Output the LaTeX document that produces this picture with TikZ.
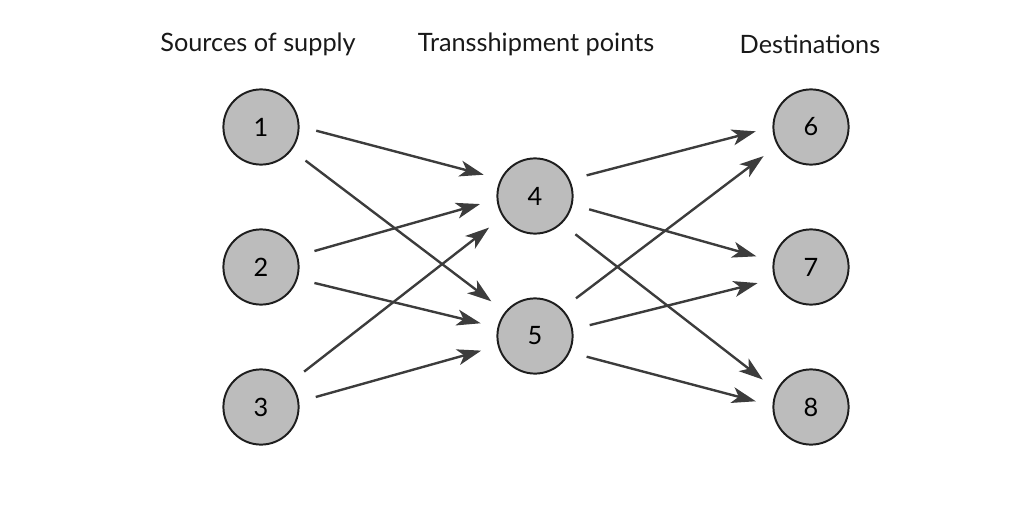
\documentclass[tikz,border=0pt]{standalone}
\usepackage{fontspec}
\setmainfont{Lato}
\usepackage{xcolor}
\usetikzlibrary{arrows.meta}
\definecolor{nodefill}{RGB}{188,188,188}
\definecolor{nodeline}{RGB}{30,30,30}
\definecolor{arrowline}{RGB}{60,60,60}

\begin{document}
\begin{tikzpicture} [
    point/.style={circle, minimum size=1.88cm, inner sep=0pt, text centered, draw=nodeline, line width=1.4pt, fill=nodefill, font=\fontsize{18}{21}\selectfont},
    heading/.style={font=\fontsize{18}{21}\selectfont, text=black!90},
    flow/.style={-{Stealth[length=0.6cm, width=0.4cm, inset=0.16cm]}, line width=1.7pt, color=arrowline, shorten <=0.43cm, shorten >=0.43cm}
]
    \useasboundingbox (0,0) rectangle (25.6,-12.675);

    % Column headings
    \node[heading] (head_sources) at (6.45,-1.1) {Sources of supply};
    \node[heading] (head_trans) at (13.4,-1.1) {Transshipment points};
    \node[heading] (head_dest) at (20.25,-1.1) {Destinations};

    % Sources of supply
    \node[point] (source_1) at (6.525,-3.175) {1};
    \node[point] (source_2) at (6.525,-6.675) {2};
    \node[point] (source_3) at (6.525,-10.175) {3};

    % Transshipment points
    \node[point] (trans_4) at (13.375,-4.9) {4};
    \node[point] (trans_5) at (13.375,-8.4) {5};

    % Destinations
    \node[point] (dest_6) at (20.275,-3.175) {6};
    \node[point] (dest_7) at (20.275,-6.675) {7};
    \node[point] (dest_8) at (20.275,-10.175) {8};

    % Sources to transshipment points
    \draw[flow] (source_1.1) -- (trans_4.154);
    \draw[flow] (source_1.-37) -- (trans_5.141);
    \draw[flow] (source_2.17) -- (trans_4.185);
    \draw[flow] (source_2.-18) -- (trans_5.167);
    \draw[flow] (source_3.40) -- (trans_4.213);
    \draw[flow] (source_3.8) -- (trans_5.195);

    % Transshipment points to destinations
    \draw[flow] (trans_4.25) -- (dest_6.180);
    \draw[flow] (trans_4.-13) -- (dest_7.171);
    \draw[flow] (trans_4.-46) -- (dest_8.154);
    \draw[flow] (trans_5.45) -- (dest_6.209);
    \draw[flow] (trans_5.10) -- (dest_7.198);
    \draw[flow] (trans_5.-25) -- (dest_8.178);
\end{tikzpicture}
\end{document}
